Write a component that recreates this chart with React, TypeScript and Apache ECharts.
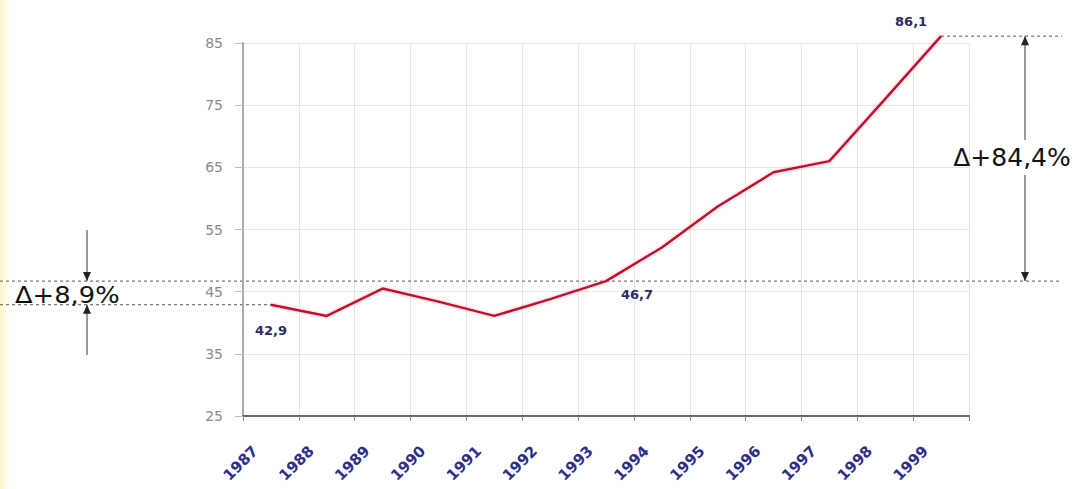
import React, { useEffect, useRef } from "react";
import * as echarts from "echarts";

const years = ["1987", "1988", "1989", "1990", "1991", "1992", "1993", "1994", "1995", "1996", "1997", "1998", "1999"];
const values = [42.9, 41.1, 45.5, 43.4, 41.1, 43.8, 46.7, 52.1, 58.7, 64.2, 66.0, 76.0, 86.1];
const labelledIdx = [0, 6, 12];
const deltaLeft = "Δ+8,9%";
const deltaRight = "Δ+84,4%";

const fmt = (v: number) => v.toFixed(1).replace(".", ",");
const FONT = "DejaVu Sans, Verdana, sans-serif";

export default function App() {
  const ref = useRef<HTMLDivElement>(null);
  useEffect(() => {
    document.body.style.margin = "0";
    const chart = echarts.init(ref.current!, null, { renderer: "svg" });
    const labelPos: Record<number, any> = {
      0: { position: "bottom", offset: [0, 14] },
      6: { position: "bottom", offset: [31, 1] },
      12: { position: "top", offset: [-30, -3] },
    };
    chart.setOption({
      animation: false,
      backgroundColor: "#ffffff",
      grid: { left: 243, right: 107, top: 43, bottom: 73 },
      xAxis: {
        type: "category",
        data: years,
        boundaryGap: true,
        axisLine: { lineStyle: { color: "#666", width: 2 } },
        axisTick: { show: true, length: 5, lineStyle: { color: "#888" } },
        axisLabel: {
          rotate: 45,
          margin: 17,
          formatter: (v: string) => `{y|${v}}`,
          rich: {
            y: {
              color: "#2e2e8a",
              fontSize: 15,
              fontWeight: "bold",
              fontFamily: FONT,
              padding: [0, 22, 0, 0],
            },
          },
        },
        splitLine: { show: true, lineStyle: { color: "#e6e6e6", width: 1 } },
      },
      yAxis: {
        type: "value",
        min: 25,
        max: 85,
        interval: 10,
        axisLine: { show: true, lineStyle: { color: "#aaa", width: 2 } },
        axisTick: { show: true, length: 8, lineStyle: { color: "#bbb" } },
        axisLabel: { color: "#8a8a8a", fontSize: 14, margin: 20, fontFamily: FONT },
        splitLine: { show: true, lineStyle: { color: "#e6e6e6", width: 1 } },
      },
      series: [
        {
          type: "line",
          clip: false,
          data: values.map((v, i) =>
            labelledIdx.includes(i)
              ? {
                  value: v,
                  label: {
                    show: true,
                    formatter: (p: any) => fmt(p.value),
                    color: "#2a2a66",
                    fontSize: 13,
                    fontWeight: "bold",
                    fontFamily: FONT,
                    ...labelPos[i],
                  },
                }
              : v
          ),
          showSymbol: true,
          symbol: "circle",
          symbolSize: 1,
          itemStyle: { color: "#c20a2e" },
          lineStyle: { color: "#c20a2e", width: 2.5, shadowColor: "rgba(255,120,140,0.6)", shadowBlur: 3 },
        },
      ],
    });

    const px = (i: number) => chart.convertToPixel({ gridIndex: 0 }, [i, values[i]]) as number[];
    const p0 = px(0);
    const p6 = px(6);
    const p12 = px(12);
    const dash = { stroke: "#555", lineWidth: 1, lineDash: [3, 3] };
    const arrow = { stroke: "#333", lineWidth: 1 };
    const lx = 87;
    const rx = 1025;
    const tri = (x: number, tipY: number, down: boolean) => ({
      type: "polygon",
      shape: {
        points: down
          ? [[x - 4, tipY - 9], [x + 4, tipY - 9], [x, tipY]]
          : [[x - 4, tipY + 9], [x + 4, tipY + 9], [x, tipY]],
      },
      style: { fill: "#222" },
    });
    chart.setOption({
      graphic: [
        {
          type: "rect",
          shape: { x: 0, y: 0, width: 14, height: 489 },
          style: {
            fill: new echarts.graphic.LinearGradient(0, 0, 1, 0, [
              { offset: 0, color: "#fff3c4" },
              { offset: 1, color: "rgba(255,255,255,0)" },
            ]),
          },
          z: -10,
        },
        { type: "line", shape: { x1: 0, y1: p0[1], x2: p0[0], y2: p0[1] }, style: dash },
        { type: "line", shape: { x1: 0, y1: p6[1], x2: 1062, y2: p6[1] }, style: dash },
        { type: "line", shape: { x1: p12[0], y1: p12[1], x2: 1062, y2: p12[1] }, style: dash },
        // left arrow
        { type: "line", shape: { x1: lx, y1: 230, x2: lx, y2: p6[1] }, style: arrow },
        { type: "line", shape: { x1: lx, y1: p0[1], x2: lx, y2: 355 }, style: arrow },
        tri(lx, p6[1], true),
        tri(lx, p0[1], false),
        {
          type: "text",
          x: 15,
          y: (p0[1] + p6[1]) / 2 + 2,
          scaleX: 1.12,
          style: {
            text: deltaLeft,
            fill: "#111",
            fontSize: 23,
            fontFamily: FONT,
            verticalAlign: "middle",
            align: "left",
          },
          z: 10,
        },
        // right arrow
        { type: "line", shape: { x1: rx, y1: p12[1], x2: rx, y2: 140 }, style: arrow },
        { type: "line", shape: { x1: rx, y1: 175, x2: rx, y2: p6[1] }, style: arrow },
        tri(rx, p12[1], false),
        tri(rx, p6[1], true),
        {
          type: "text",
          x: 1012,
          y: 157,
          style: {
            text: deltaRight,
            fill: "#111",
            fontSize: 25,
            fontFamily: FONT,
            verticalAlign: "middle",
            align: "center",
          },
          z: 10,
        },
      ],
    });
    return () => chart.dispose();
  }, []);
  return <div ref={ref} style={{ width: 1076, height: 489 }} />;
}
